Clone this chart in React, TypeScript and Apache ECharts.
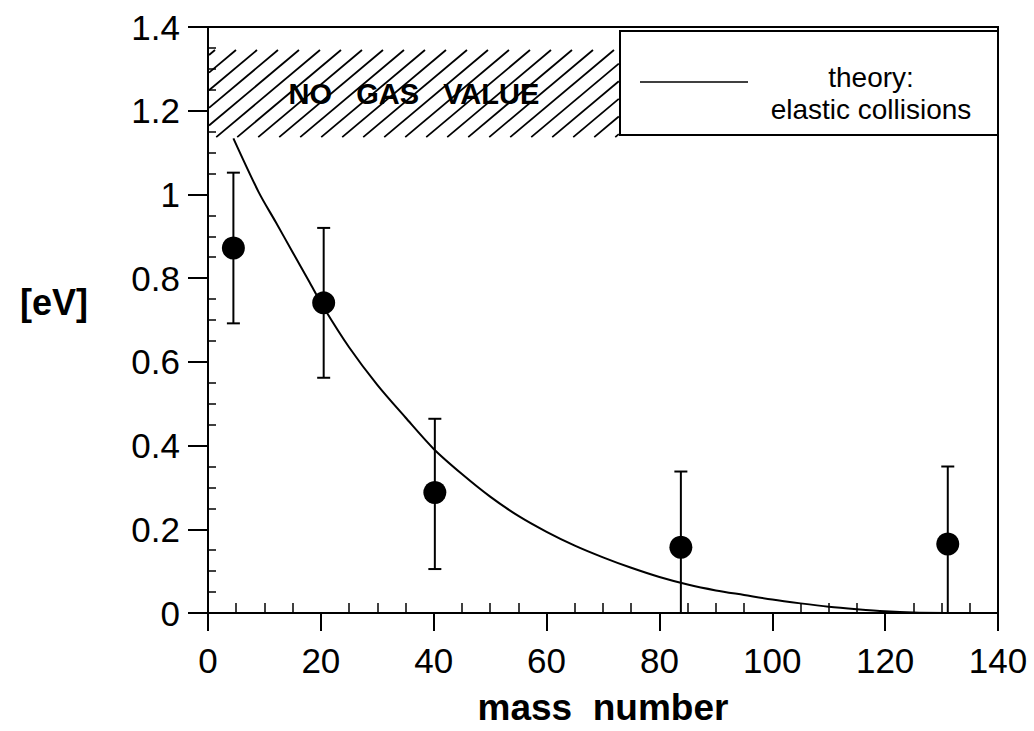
import React, { useEffect, useRef } from "react";
import * as echarts from "echarts";

// measured points (mass number, energy in eV) with error bar limits
const massNumbers = [4.5, 20.5, 40.2, 83.8, 131.1];
const measuredEV = [0.872, 0.741, 0.288, 0.157, 0.165];
const errLow = [0.692, 0.562, 0.105, -0.02, -0.02];
const errHigh = [1.052, 0.92, 0.464, 0.338, 0.35];

// theory curve
const theoryX = [4.5, 9, 12, 15, 18, 20.5, 25, 30, 35, 40, 45, 50, 55, 60, 65, 70, 75, 80, 85, 90, 95, 100, 105, 110, 115, 120, 125, 131];
const theoryY = [1.134, 1.005, 0.934, 0.862, 0.79, 0.73, 0.635, 0.545, 0.467, 0.392, 0.332, 0.278, 0.232, 0.194, 0.161, 0.133, 0.108, 0.086, 0.068, 0.054, 0.043, 0.032, 0.023, 0.015, 0.009, 0.004, 0.001, 0];

// "no gas value" hatched region: [xFrom, xTo, yFrom, yTo]
const noGasRegion = [0, 72.8, 1.137, 1.345];
const noGasLabel = "NO   GAS   VALUE";

// axis ticks
const xMinorTicks = [5, 10, 15, 25, 30, 35, 45, 50, 55, 65, 70, 75, 85, 90, 95, 105, 110, 115, 125, 130, 135];
const yMinorTicks = [0.05, 0.1, 0.15, 0.25, 0.3, 0.35, 0.45, 0.5, 0.55, 0.65, 0.7, 0.75, 0.85, 0.9, 0.95, 1.05, 1.1, 1.15, 1.25, 1.3, 1.35];

const legendText = "theory:\nelastic collisions";

const FONT = "Liberation Sans";

export default function App() {
  const ref = useRef<HTMLDivElement>(null);
  useEffect(() => {
    if (!ref.current) return;
    const chart = echarts.init(ref.current, null, { renderer: "svg" });
    const theoryData = theoryX.map((x, i) => [x, theoryY[i]]);
    const pointData = massNumbers.map((x, i) => [x, measuredEV[i]]);
    const errData = massNumbers.map((x, i) => [x, errLow[i], errHigh[i]]);

    const option: any = {
      animation: false,
      backgroundColor: "#fff",
      grid: {
        left: 208,
        right: 36,
        top: 27,
        bottom: 115,
        show: true,
        borderColor: "#000",
        borderWidth: 2,
      },
      xAxis: [
        {
          type: "value",
          min: 0,
          max: 140,
          interval: 20,
          name: "mass  number",
          nameLocation: "middle",
          nameGap: 76,
          nameTextStyle: { fontFamily: FONT, fontWeight: "bold", fontSize: 37, color: "#000" },
          axisLine: { show: true, lineStyle: { color: "#000", width: 2 } },
          axisTick: { show: true, inside: false, length: 18, lineStyle: { color: "#000", width: 2 } },
          axisLabel: { fontFamily: FONT, fontSize: 35, color: "#000", margin: 30 },
          splitLine: { show: false },
        },
        {
          type: "value",
          min: 0,
          max: 140,
          position: "bottom",
          axisLine: { show: false },
          axisTick: { show: true, inside: true, length: 10, customValues: xMinorTicks, lineStyle: { color: "#000", width: 1.5 } },
          axisLabel: { show: false },
          splitLine: { show: false },
        },
      ],
      yAxis: [
        {
          type: "value",
          min: 0,
          max: 1.4,
          interval: 0.2,
          name: "[eV]",
          nameLocation: "middle",
          nameRotate: 0,
          nameGap: 120,
          nameTextStyle: { fontFamily: FONT, fontWeight: "bold", fontSize: 36, color: "#000", verticalAlign: "bottom" },
          axisLine: { show: true, lineStyle: { color: "#000", width: 2 } },
          axisTick: { show: true, inside: false, length: 20, lineStyle: { color: "#000", width: 2 } },
          axisLabel: { fontFamily: FONT, fontSize: 35, color: "#000", margin: 28 },
          splitLine: { show: false },
        },
        {
          type: "value",
          min: 0,
          max: 1.4,
          position: "left",
          axisLine: { show: false },
          axisTick: { show: true, inside: true, length: 8, customValues: yMinorTicks, lineStyle: { color: "#000", width: 1.5 } },
          axisLabel: { show: false },
          splitLine: { show: false },
        },
      ],
      series: [
        {
          type: "custom",
          name: "no gas value",
          xAxisIndex: 0,
          yAxisIndex: 0,
          silent: true,
          clip: true,
          encode: { x: [0, 1], y: [2, 3] },
          data: [noGasRegion],
          renderItem: (params: any, api: any) => {
            const p0 = api.coord([api.value(0), api.value(3)]);
            const p1 = api.coord([api.value(1), api.value(2)]);
            const left = p0[0] + 1;
            const top = p0[1];
            const right = p1[0];
            const bottom = p1[1];
            const h = bottom - top;
            const dx = h / Math.tan((40 * Math.PI) / 180);
            const k = h / dx;
            const spacing = 21;
            const children: any[] = [];
            for (let u = left - dx + 6; u < right; u += spacing) {
              let x1 = u, y1 = bottom, x2 = u + dx, y2 = top;
              if (x1 < left) { y1 = bottom - (left - x1) * k; x1 = left; }
              if (x2 > right) { y2 = top + (x2 - right) * k; x2 = right; }
              if (x1 >= x2) continue;
              children.push({
                type: "line",
                shape: { x1, y1, x2, y2 },
                style: { stroke: "#000", lineWidth: 1.8 },
              });
            }
            children.push({
              type: "text",
              x: (left + right) / 2,
              y: (top + bottom) / 2,
              style: {
                text: noGasLabel,
                fontFamily: FONT,
                fontWeight: "bold",
                fontSize: 29,
                fill: "#000",
                align: "center",
                verticalAlign: "middle",
              },
            });
            return { type: "group", children };
          },
          z: 1,
        },
        {
          type: "line",
          name: "theory: elastic collisions",
          data: theoryData,
          showSymbol: false,
          smooth: 0.3,
          lineStyle: { color: "#000", width: 2 },
          z: 3,
        },
        {
          type: "custom",
          name: "error bars",
          clip: true,
          encode: { x: 0, y: [1, 2] },
          data: errData,
          renderItem: (params: any, api: any) => {
            const hi = api.coord([api.value(0), api.value(2)]);
            const lo = api.coord([api.value(0), api.value(1)]);
            const hw = 6.5;
            const st = { stroke: "#000", lineWidth: 2 };
            return {
              type: "group",
              children: [
                { type: "line", shape: { x1: hi[0], y1: hi[1], x2: lo[0], y2: lo[1] }, style: st },
                { type: "line", shape: { x1: hi[0] - hw, y1: hi[1], x2: hi[0] + hw, y2: hi[1] }, style: st },
                { type: "line", shape: { x1: lo[0] - hw, y1: lo[1], x2: lo[0] + hw, y2: lo[1] }, style: st },
              ],
            };
          },
          z: 4,
        },
        {
          type: "scatter",
          name: "measured",
          data: pointData,
          symbol: "circle",
          symbolSize: 23,
          itemStyle: { color: "#000", opacity: 1 },
          z: 5,
        },
      ],
      graphic: [
        {
          type: "group",
          z: 100,
          children: [
            {
              type: "rect",
              shape: { x: 620, y: 31, width: 378, height: 104 },
              style: { fill: "#fff", stroke: "#000", lineWidth: 2 },
            },
            {
              type: "line",
              shape: { x1: 640, y1: 82, x2: 748, y2: 82 },
              style: { stroke: "#000", lineWidth: 1.5 },
            },
            {
              type: "text",
              x: 871,
              y: 93,
              style: {
                text: legendText,
                fontFamily: FONT,
                fontSize: 28,
                lineHeight: 32,
                fill: "#000",
                align: "center",
                verticalAlign: "middle",
              },
            },
          ],
        },
      ],
    };
    chart.setOption(option);
    return () => chart.dispose();
  }, []);
  return (
    <div
      ref={ref}
      style={{ position: "fixed", left: 0, top: 0, width: 1034, height: 731, background: "#fff" }}
    />
  );
}
